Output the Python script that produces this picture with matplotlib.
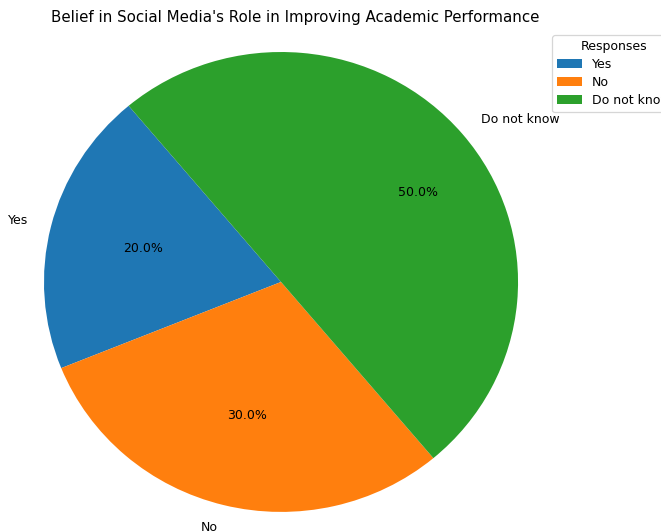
import matplotlib
matplotlib.use('Agg')
from matplotlib import pyplot as plt

responses = ['Yes', 'No', 'Do not know']
shares = [20, 30, 50]

fig = plt.figure(figsize=(661/90, 531/90), dpi=90)
ax = fig.add_axes([30/661, 0, 530/661, 499/531])

wedges, texts, autotexts = ax.pie(shares, labels=responses, autopct='%1.1f%%',
                                  startangle=130)
ax.set_xlim(-1.059, 1.177)
ax.set_ylim(-1.083, 1.087)
ax.set_aspect('auto')
# the big slice carries its percentage a bit further out
autotexts[2].set_position((0.578, 0.387))
ax.set_title("Belief in Social Media's Role in Improving Academic Performance", pad=8)

ax.legend(wedges, responses, title='Responses', loc='upper left',
          labelspacing=0.4, borderaxespad=0,
          bbox_to_anchor=(552/661, 1 - 35/531), bbox_transform=fig.transFigure)

plt.savefig('out.png', dpi=90)
